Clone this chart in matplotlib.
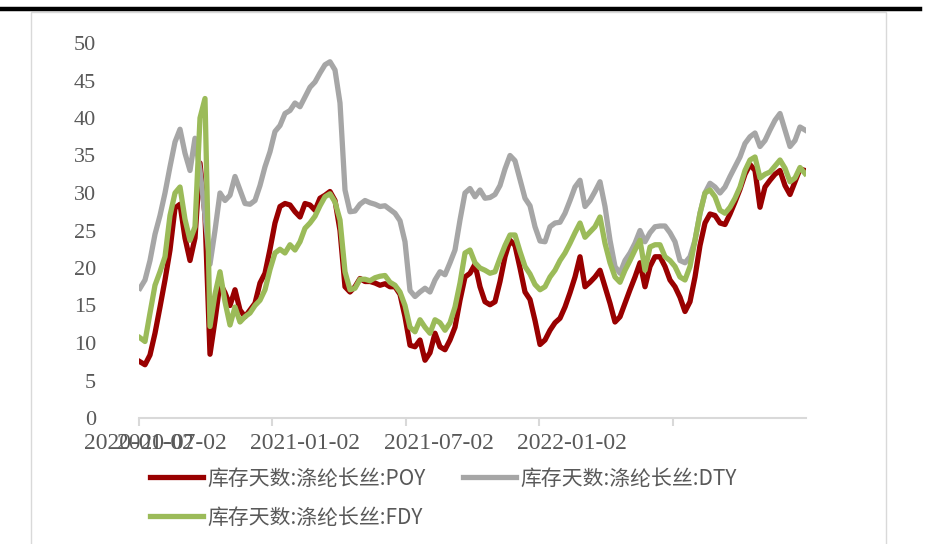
import matplotlib
matplotlib.use('Agg')
import matplotlib.pyplot as plt
from matplotlib.lines import Line2D
from matplotlib.patches import Rectangle
import numpy as np

plt.rcParams['font.family'] = ['Noto Sans CJK SC', 'DejaVu Sans']

# 库存天数(天),周度
poy = [7.5, 7.1, 8.4, 11.3, 14.8, 18.4, 22.4, 28, 28.5, 24,
       21, 24, 34, 27, 8.5, 13, 18, 16.7, 15, 17.1,
       14.4, 13.5, 14.4, 15.3, 18, 19.3, 22.5, 26, 28.2, 28.6,
       28.4, 27.5, 26.8, 28.6, 28.4, 27.7, 29.3, 29.7, 30.2, 29,
       25, 17.5, 16.8, 17.5, 18.6, 18.2, 18.2, 18, 17.7, 17.9,
       17.5, 17.5, 16.5, 13.5, 9.7, 9.5, 10.4, 7.7, 8.7, 11.3,
       9.5, 9.1, 10.4, 12.1, 15.7, 18.8, 19.3, 20.5, 17.5, 15.5,
       15.1, 15.5, 18.2, 21.5, 23.7, 23, 20, 16.8, 15.8, 13,
       9.8, 10.4, 11.7, 12.7, 13.3, 14.8, 16.7, 18.8, 21.5, 17.5,
       18.1, 18.8, 19.7, 17.5, 15.3, 12.8, 13.5, 15.3, 17.1, 18.8,
       20.7, 17.5, 20.2, 21.5, 21.5, 20.2, 18.4, 17.5, 16.1, 14.2,
       15.5, 18.8, 23, 26, 27.2, 27, 26, 25.8, 27.2, 28.8,
       30.5, 32.5, 33.8, 33, 28.1, 30.8, 31.7, 32.5, 33, 31,
       29.8, 31.5, 33.2, 33]

dty = [17.3, 18.4, 21, 24.5, 27, 30, 33.5, 36.8, 38.5, 35.3,
       33, 37.3, 33, 27, 20.5, 25, 30, 29, 29.7, 32.2,
       30.4, 28.6, 28.5, 29, 31, 33.5, 35.5, 38.2, 39, 40.6,
       41, 42, 41.5, 42.8, 44.1, 44.8, 46, 47.1, 47.5, 46.4,
       42, 30.4, 27.5, 27.6, 28.5, 29, 28.7, 28.5, 28.2, 28.3,
       27.8, 27.3, 26.3, 23.5, 17, 16.2, 16.8, 17.3, 16.8, 18.4,
       19.5, 19.1, 20.7, 22.4, 26.4, 30, 30.6, 29.5, 30.4, 29.3,
       29.4, 29.8, 31, 33.2, 35, 34.3, 31.8, 29.3, 28.3, 25.5,
       23.6, 23.5, 25.5, 26, 26.1, 27.3, 29, 30.8, 31.7, 28.2,
       29, 30.2, 31.5, 28.2, 23.7, 20.2, 19.3, 21, 22, 23.3,
       25, 23.5, 24.7, 25.5, 25.6, 25.6, 24.7, 23.5, 21, 20.7,
       21.5, 23.7, 27.3, 30, 31.3, 30.8, 30, 30.8, 32.2, 33.5,
       34.8, 36.6, 37.5, 38, 36.2, 37, 38.4, 39.7, 40.6, 38.4,
       36.2, 37, 38.8, 38.4]

fdy = [10.7, 10.2, 14, 17.7, 19.5, 21.5, 27, 30, 30.8, 26.5,
       23.7, 25.5, 40, 42.6, 12.2, 16.5, 19.5, 15.5, 12.4, 14.8,
       12.8, 13.5, 14, 15, 15.7, 17.1, 19.8, 22, 22.5, 22,
       23.1, 22.4, 23.5, 25.3, 26, 26.9, 28.3, 29.5, 29.9, 28.8,
       26.4, 19.5, 17.1, 17.3, 18.5, 18.5, 18.3, 18.7, 18.9, 19,
       18.1, 17.7, 16.8, 15, 12.1, 11.5, 13.1, 12.1, 11.3, 13.1,
       12.7, 11.7, 12.7, 14.8, 18, 22, 22.4, 20.7, 20, 19.7,
       19.3, 19.5, 21.3, 23, 24.4, 24.4, 22.2, 20.2, 19.2, 17.8,
       17.1, 17.5, 18.8, 19.7, 21, 22, 23.3, 24.7, 26, 24.1,
       24.8, 25.5, 26.8, 23.3, 20.7, 18.8, 18.1, 19.7, 21, 22.4,
       23.7, 19.7, 22.8, 23.1, 23.1, 21.5, 21, 20.2, 18.8, 18.4,
       20.2, 23.7, 27.3, 30, 30.4, 29.5, 27.7, 27.3, 28.1, 29.3,
       30.8, 33, 34.4, 34.8, 32, 32.5, 32.8, 33.6, 34.4, 33.3,
       31.5, 32, 33.4, 32.6]

date_labels = ['2020-01-02', '2020-07-02', '2021-01-02', '2021-07-02', '2022-01-02']
series_names = ['库存天数:涤纶长丝:POY', '库存天数:涤纶长丝:DTY', '库存天数:涤纶长丝:FDY']
colors = ['#990000', '#a6a6a6', '#9bbb59']

W, H = 929, 544
fig = plt.figure(figsize=(W / 100, H / 100), dpi=100)

# 外框和顶部黑线
fig.add_artist(Rectangle((31 / W, -0.01), (886 - 31) / W, 1 - 12 / H + 0.01,
                         transform=fig.transFigure, fill=False,
                         edgecolor='#d9d9d9', lw=1))
fig.add_artist(Line2D([0, 920 / W], [1 - 9 / H, 1 - 9 / H],
                      transform=fig.transFigure, color='black', lw=3.2))

ax = fig.add_axes([139 / W, 1 - 418 / H, (806 - 139) / W, (418 - 43) / H])

x = np.arange(len(poy))
handles = []
for vals, name, c in zip([poy, dty, fdy], series_names, colors):
    ln, = ax.plot(x, vals, color=c, lw=3.8, label=name, solid_joinstyle='round')
    handles.append(ln)

ax.set_xlim(-0.2, len(poy) - 0.8)
ax.set_ylim(0, 50)
ax.set_yticks(np.arange(0, 51, 5))

for s in ['top', 'right', 'left']:
    ax.spines[s].set_visible(False)
ax.spines['bottom'].set_color('#d9d9d9')
ax.spines['bottom'].set_linewidth(1.5)

ax.tick_params(axis='y', length=0, pad=31)
for lab in ax.get_yticklabels():
    lab.set_fontfamily('Liberation Serif')
    lab.set_fontsize(16)
    lab.set_color('#595959')

# 刻度线每半年一个,标签位置单独放
ax.set_xticks(np.linspace(-0.2, len(poy) - 0.8, 6)[:5])
ax.set_xticklabels([])
ax.tick_params(axis='x', direction='out', length=6, width=1.5, color='#d9d9d9')
label_pos = [-0.2, 6.4, 33.0, 59.8, 86.4]
for p, t in zip(label_pos, date_labels):
    ax.text(p, -15 / 7.5, t, ha='center', va='top', family='Liberation Serif',
            size=17, color='#595959')

# 图例按行排列:POY、DTY 一行,FDY 第二行
order = [0, 2, 1]
fig.legend([handles[i] for i in order], [series_names[i] for i in order],
           loc='upper left', bbox_to_anchor=(131 / W, 1 - 449 / H), ncol=2,
           frameon=False, fontsize=15, handlelength=2.55, handletextpad=0.2,
           columnspacing=1.8, labelspacing=0.8, labelcolor='#595959')

fig.savefig('out.png', dpi=100)
